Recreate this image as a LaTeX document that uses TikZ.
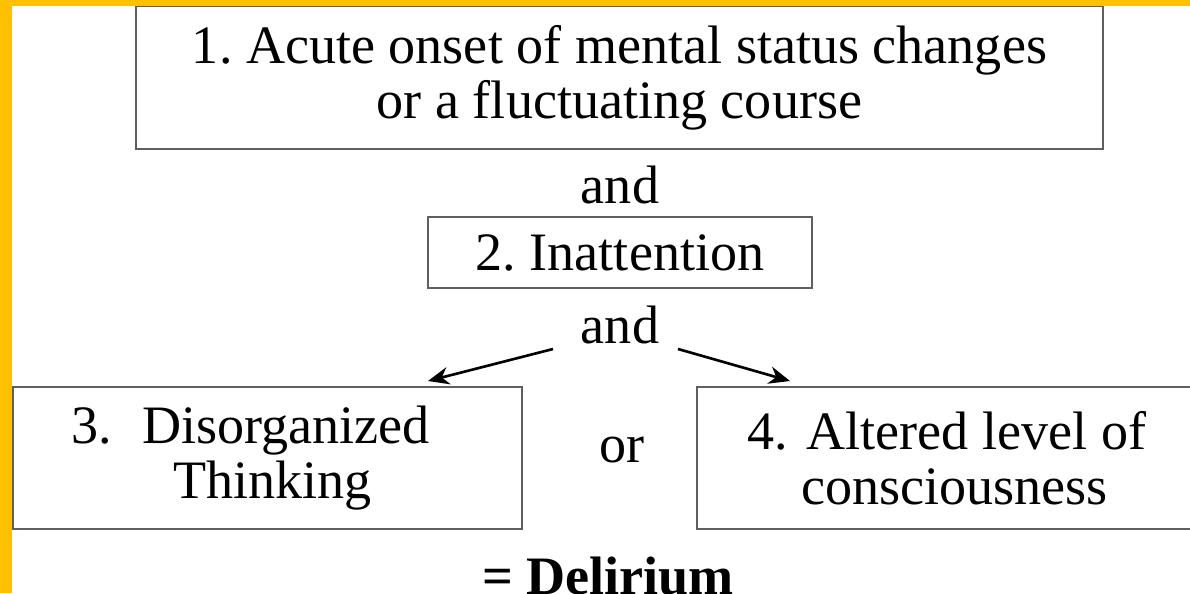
\documentclass[tikz,border=0pt]{standalone}
\usepackage{fontspec}
\setmainfont{Liberation Serif}
\usetikzlibrary{arrows.meta}
\definecolor{bandyellow}{RGB}{255,192,0}
\definecolor{boxline}{RGB}{95,95,95}
\tikzset{
  box/.style={draw=boxline, line width=1.4pt, align=center, inner sep=0pt,
    font=\fontsize{30.8}{31.3}\selectfont},
  word/.style={font=\fontsize{30.8}{31.3}\selectfont, inner sep=0pt},
  arr/.style={line width=1.5pt, -{Stealth[length=12pt,width=10pt]}}
}
\begin{document}
\frenchspacing
\begin{tikzpicture}[x=0.02cm,y=-0.02cm]
\useasboundingbox (0,0) rectangle (1190,593);
\clip (0,0) rectangle (1190,593);
\fill[white] (0,0) rectangle (1190,593);
\node[box, minimum width=967*0.02cm, minimum height=143*0.02cm] (b1) at (619.5,77.5)
  {1. Acute onset of mental status changes\\or a fluctuating course};
\node[word] (and1) at (620,185) {and};
\node[box, minimum width=384*0.02cm, minimum height=71*0.02cm] (b2) at (620,252.5)
  {2. Inattention};
\node[word] (and2) at (620,325) {and};
\node[box, minimum width=509*0.02cm, minimum height=142*0.02cm] (b3) at (267.5,458)
  {\hspace*{-19pt}3.\hspace{0.3em} Disorganized\\\hspace*{6pt}Thinking};
\node[word] (or) at (622,450) {or};
\node[box, minimum width=503*0.02cm, minimum height=142*0.02cm] (b4) at (948.5,458)
  {\hspace*{-2pt}4.\hspace{0.1em} Altered level of\\\hspace*{7pt}consciousness};
\node[word, font=\fontsize{30.8}{31.3}\selectfont\bfseries, anchor=base] (res) at (608,594) {= Delirium};
\coordinate (l1) at (553,349);
\coordinate (l2) at (428,381);
\coordinate (r1) at (678,349);
\coordinate (r2) at (790,381);
\draw[arr] (l1) -- (l2);
\draw[arr] (r1) -- (r2);
\fill[bandyellow] (0,0) rectangle (1190,6);
\fill[bandyellow] (0,0) rectangle (12,593);
\end{tikzpicture}
\end{document}
